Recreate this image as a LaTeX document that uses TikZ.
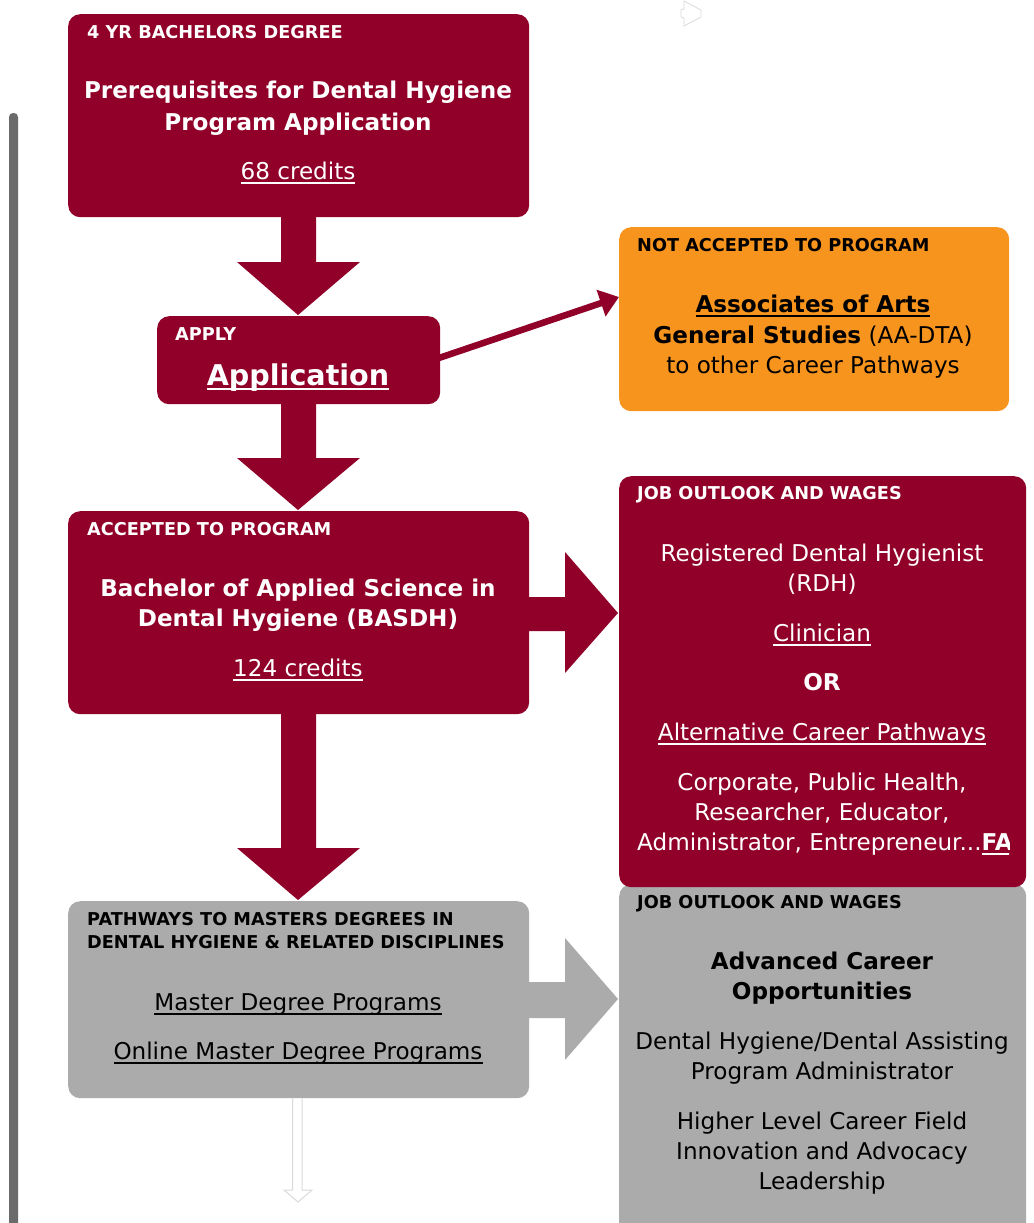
\documentclass[tikz,border=0pt]{standalone}
\usepackage{fontspec}
\setmainfont{DejaVu Sans}
\usetikzlibrary{arrows.meta}
\definecolor{crim}{HTML}{900028}
\definecolor{orng}{HTML}{F7941D}
\definecolor{gry}{HTML}{ABABAB}
\definecolor{barc}{HTML}{6B6B6B}
\definecolor{faint}{HTML}{DADADA}
\newcommand\myul[1]{\setbox0\hbox{#1}\rlap{\raisebox{-4.5pt}{\rule{\wd0}{1.6pt}}}\box0}
\begin{document}
\begin{tikzpicture}[x=1pt,y=-1pt,
  box/.style={rounded corners=12pt, draw=none, anchor=north west, inner sep=0pt},
  body/.style={inner sep=0pt, anchor=base, font=\fontsize{23.1}{30}\selectfont},
  lab/.style={inner sep=0pt, anchor=base west, font=\fontsize{17.7}{23}\selectfont\bfseries},
  wt/.style={text=white},
  bk/.style={text=black}]
\useasboundingbox (0,0) rectangle (1033,1223);
% left bar
\fill[barc, rounded corners=4pt] (9,113) rectangle (18,1240);
% cursor icon
\draw[faint, line width=0.8pt] (684,1) -- (701,10) -- (701,17) -- (684,26) -- (684,18) -- (681,17) -- (681,10) -- (684,9) -- cycle;

% boxes
\node[box, fill=crim, minimum width=461pt, minimum height=203pt] (top) at (68,14) {};
\node[box, fill=crim, minimum width=283pt, minimum height=88pt] (apply) at (157,316) {};
\node[box, fill=orng, minimum width=390pt, minimum height=184pt] (orange) at (619,227) {};
\node[box, fill=crim, minimum width=461pt, minimum height=203pt] (acc) at (68,511) {};
\node[box, fill=gry, minimum width=407pt, minimum height=356pt] (gright) at (619,884) {};
\node[box, fill=crim, minimum width=407pt, minimum height=411pt] (job) at (619,476) {};
\node[box, fill=gry, minimum width=461pt, minimum height=197pt] (gleft) at (68,901) {};

% block arrows
\fill[crim] (281,216) -- (316,216) -- (316,262) -- (360,262) -- (298,315) -- (237,262) -- (281,262) -- cycle;
\fill[crim] (281,403) -- (316,403) -- (316,458) -- (360,458) -- (298,510) -- (237,458) -- (281,458) -- cycle;
\fill[crim] (281,713) -- (316,713) -- (316,848) -- (360,848) -- (298,900) -- (237,848) -- (281,848) -- cycle;
\fill[crim] (528,597) -- (565,597) -- (565,552) -- (618,613) -- (565,673) -- (565,631) -- (528,631) -- cycle;
\fill[gry] (528,982) -- (565,982) -- (565,938) -- (618,999) -- (565,1060) -- (565,1018) -- (528,1018) -- cycle;
% faint bottom arrow
\draw[faint, line width=1pt] (292.5,1098) -- (292.5,1190) -- (284,1190) -- (298,1202) -- (312,1190) -- (302,1190) -- (302,1098);

% thin arrow
\coordinate (a1) at (436,359);
\coordinate (a2) at (619,297);
\draw[crim, line width=6.5pt, -{Triangle[length=19pt,width=27pt]}] (a1) -- (a2);

% top box text
\node[lab, wt] (l1) at (87,39) {4 YR BACHELORS DEGREE};
\node[body, wt] (t1) at (298,99) {\bfseries Prerequisites for Dental Hygiene};
\node[body, wt] (t2) at (298,130) {\bfseries Program Application};
\node[body, wt] (t3) at (298,179) {\myul{68 credits}};

% apply
\node[lab, wt] (l2) at (175,340) {APPLY};
\node[body, wt, font=\fontsize{28.6}{34}\selectfont\bfseries] (t4) at (298,385) {\myul{Application}};

% orange
\node[lab, bk] (l3) at (637,251) {NOT ACCEPTED TO PROGRAM};
\node[body, bk] (t5) at (813,312) {\bfseries\myul{Associates of Arts}};
\node[body, bk] (t6) at (813,343) {\textbf{General Studies} (AA-DTA)};
\node[body, bk] (t7) at (813,373) {to other Career Pathways};

% accepted
\node[lab, wt] (l4) at (87,535) {ACCEPTED TO PROGRAM};
\node[body, wt] (t8) at (298,596) {\bfseries Bachelor of Applied Science in};
\node[body, wt] (t9) at (298,626) {\bfseries Dental Hygiene (BASDH)};
\node[body, wt] (t10) at (298,676) {\myul{124 credits}};

% job
\node[lab, wt] (l5) at (637,499) {JOB OUTLOOK AND WAGES};
\node[body, wt] (j1) at (822,561) {Registered Dental Hygienist};
\node[body, wt] (j2) at (822,591) {(RDH)};
\node[body, wt] (j3) at (822,641) {\myul{Clinician}};
\node[body, wt] (j4) at (822,690) {\bfseries OR};
\node[body, wt] (j5) at (822,740) {\myul{Alternative Career Pathways}};
\node[body, wt] (j6) at (822,790) {Corporate, Public Health,};
\node[body, wt] (j7) at (822,820) {Researcher, Educator,};
\begin{scope}
\clip (619,476) rectangle (1009,887);
\node[body, wt, anchor=base west] (j8) at (637,850) {Administrator, Entrepreneur...\textbf{\myul{FA}}};
\end{scope}

% gray left
\node[lab, bk] (l6) at (87,925) {PATHWAYS TO MASTERS DEGREES IN};
\node[lab, bk] (l7) at (87,948) {DENTAL HYGIENE \& RELATED DISCIPLINES};
\node[body, bk] (g1) at (298,1010) {\myul{Master Degree Programs}};
\node[body, bk] (g2) at (298,1059) {\myul{Online Master Degree Programs}};

% gray right
\node[lab, bk] (l8) at (637,908) {JOB OUTLOOK AND WAGES};
\node[body, bk] (r1) at (822,969) {\bfseries Advanced Career};
\node[body, bk] (r2) at (822,999) {\bfseries Opportunities};
\node[body, bk] (r3) at (822,1049) {Dental Hygiene/Dental Assisting};
\node[body, bk] (r4) at (822,1079) {Program Administrator};
\node[body, bk] (r5) at (822,1129) {Higher Level Career Field};
\node[body, bk] (r6) at (822,1159) {Innovation and Advocacy};
\node[body, bk] (r7) at (822,1189) {Leadership};
\end{tikzpicture}
\end{document}
